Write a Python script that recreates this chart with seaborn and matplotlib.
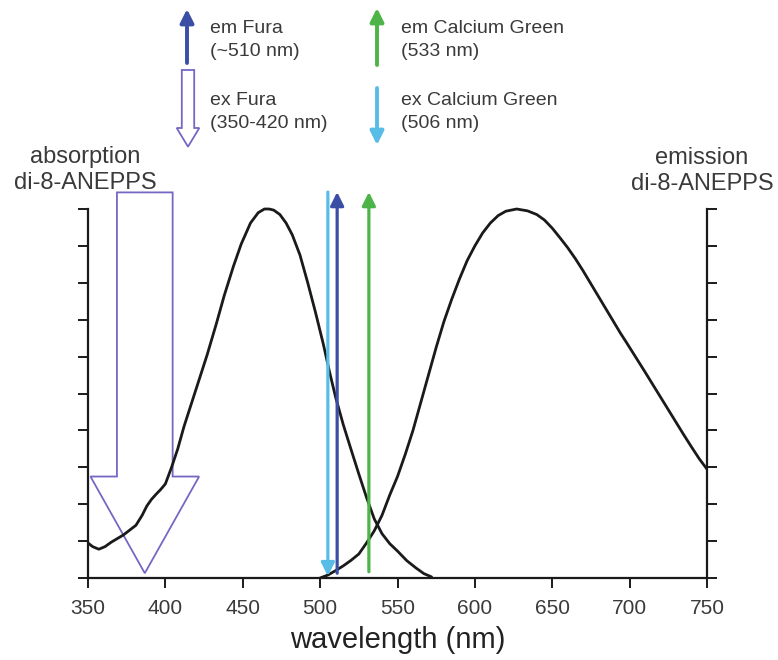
import numpy as np
import pandas as pd
import matplotlib
matplotlib.use("Agg")
import matplotlib.pyplot as plt
from matplotlib.patches import Polygon
import seaborn as sns

#%% Dati
abs_nm = [350, 353, 357, 361, 365, 369, 373, 377, 381, 385, 388, 391, 394, 397, 400,
          404, 408, 412, 417, 422, 427, 433, 438, 444, 449, 455, 460, 464, 467, 470,
          474, 478, 482, 487, 492, 497, 502, 506, 510, 515, 520, 525, 530, 535, 540,
          545, 550, 556, 562, 567, 572]
abs_val = [0.095, 0.085, 0.078, 0.085, 0.097, 0.107, 0.117, 0.130, 0.143, 0.170, 0.195,
           0.213, 0.227, 0.240, 0.255, 0.300, 0.350, 0.410, 0.475, 0.540, 0.605, 0.690,
           0.765, 0.845, 0.905, 0.962, 0.990, 1.0, 1.0, 0.997, 0.985, 0.962, 0.930,
           0.875, 0.800, 0.720, 0.635, 0.560, 0.490, 0.415, 0.348, 0.282, 0.218, 0.160,
           0.120, 0.093, 0.073, 0.047, 0.027, 0.012, 0.003]

em_nm = [500, 505, 510, 515, 520, 525, 530, 535, 540, 545, 550, 555, 560, 565, 570,
         575, 580, 585, 590, 595, 600, 605, 610, 615, 620, 627, 634, 640, 645, 650,
         655, 660, 665, 670, 676, 682, 688, 694, 698, 704, 710, 715, 720, 725, 730,
         735, 740, 745, 750]
em_val = [0.0, 0.008, 0.020, 0.033, 0.048, 0.065, 0.095, 0.128, 0.170, 0.225, 0.275,
          0.335, 0.400, 0.475, 0.550, 0.625, 0.695, 0.755, 0.810, 0.860, 0.900, 0.935,
          0.962, 0.982, 0.994, 1.0, 0.995, 0.985, 0.970, 0.948, 0.922, 0.895, 0.865,
          0.832, 0.790, 0.748, 0.706, 0.664, 0.638, 0.598, 0.558, 0.524, 0.490, 0.456,
          0.422, 0.388, 0.355, 0.323, 0.295]

# frecce verticali (nm)
ex_cag_nm = 505
em_fura_nm = 511
em_cag_nm = 531.5
ex_fura_center = 386.7

x_ticks = [350, 400, 450, 500, 550, 600, 650, 700, 750]

c_cyan = "#58bde6"
c_blue = "#3b4ea6"
c_green = "#4db447"
c_purple = "#7468c4"
c_text = "#3a3a3a"

#%% Stile
sns.set_style("ticks")
plt.rcParams["font.family"] = ["Liberation Sans", "DejaVu Sans"]

fig = plt.figure(figsize=(7.78, 6.6), dpi=100)
ax = fig.add_axes([88 / 778, 82 / 660, 619 / 778, 387.45 / 660])

df_abs = pd.DataFrame({"nm": abs_nm, "val": abs_val})
df_em = pd.DataFrame({"nm": em_nm, "val": em_val})
sns.lineplot(data=df_abs, x="nm", y="val", color="#1a1a1a", lw=2.0, ax=ax)
sns.lineplot(data=df_em, x="nm", y="val", color="#1a1a1a", lw=2.0, ax=ax)

ax.set_xlim(350, 750)
ax.set_ylim(0, 1.05)
ax.set_xticks(x_ticks)
ax.set_yticks(np.arange(0, 1.01, 0.1))
ax.yaxis.set_ticks_position("both")
ax.tick_params(axis="y", labelleft=False, labelright=False, length=7, width=1.4,
               color="#1a1a1a", direction="out")
ax.tick_params(axis="x", length=7, width=1.4, color="#1a1a1a", direction="out",
               labelsize=15, labelcolor=c_text, pad=8)
for s in ["left", "right", "bottom"]:
    ax.spines[s].set_linewidth(1.6)
    ax.spines[s].set_color("#1a1a1a")
ax.spines["left"].set_bounds(0, 1)
ax.spines["right"].set_bounds(0, 1)
ax.spines["top"].set_visible(False)
ax.set_xlabel("wavelength (nm)", fontsize=21, color="#222222", labelpad=6)
ax.set_ylabel("")

# frecce colorate nel grafico
def arrow(x0, y0, x1, y1, col, coords="data", lw=2.3):
    ax.annotate("", xy=(x1, y1), xytext=(x0, y0), xycoords=coords, textcoords=coords,
                arrowprops=dict(arrowstyle="-|>", color=col, lw=lw, mutation_scale=20,
                                shrinkA=0, shrinkB=0), annotation_clip=False)

arrow(ex_cag_nm, 1.046, ex_cag_nm, 0.005, c_cyan)
arrow(em_fura_nm, 0.013, em_fura_nm, 1.046, c_blue)
arrow(em_cag_nm, 0.017, em_cag_nm, 1.046, c_green)

# freccia vuota (ex Fura)
def hollow_arrow(cx, top, base, tip, shaft_hw, head_hw, transform, lw):
    pts = [(cx - shaft_hw, top), (cx + shaft_hw, top), (cx + shaft_hw, base),
           (cx + head_hw, base), (cx, tip), (cx - head_hw, base), (cx - shaft_hw, base)]
    return Polygon(pts, closed=True, fill=False, edgecolor=c_purple, lw=lw,
                   transform=transform, clip_on=False)

ax.add_patch(hollow_arrow(ex_fura_center, 1.045, 0.275, 0.013, 18, 35.1, ax.transData, 1.3))

# legenda in alto
fx = lambda px: px / 778
fy = lambda py: (660 - py) / 660
arrow(fx(187), fy(63), fx(187), fy(9), c_blue, coords="figure fraction", lw=2.8)
arrow(fx(377), fy(65), fx(377), fy(8), c_green, coords="figure fraction", lw=2.8)
arrow(fx(377), fy(88), fx(377), fy(145), c_cyan, coords="figure fraction", lw=2.8)
fig.add_artist(hollow_arrow(fx(188), fy(70), fy(128), fy(146.7), 6.2 / 778, 11.3 / 778,
                            fig.transFigure, 1.3))

leg_kw = dict(fontsize=14, color=c_text, ha="left", va="center", linespacing=1.45)
fig.text(fx(210), fy(40), "em Fura\n(~510 nm)", **leg_kw)
fig.text(fx(210), fy(112), "ex Fura\n(350-420 nm)", **leg_kw)
fig.text(fx(401), fy(40), "em Calcium Green\n(533 nm)", **leg_kw)
fig.text(fx(401), fy(112), "ex Calcium Green\n(506 nm)", **leg_kw)

side_kw = dict(fontsize=17, color=c_text, ha="center", va="center", linespacing=1.2)
fig.text(fx(85), fy(170), "absorption\ndi-8-ANEPPS", **side_kw)
fig.text(fx(702), fy(171), "emission\ndi-8-ANEPPS", **side_kw)

fig.savefig("out.png", dpi=100)
